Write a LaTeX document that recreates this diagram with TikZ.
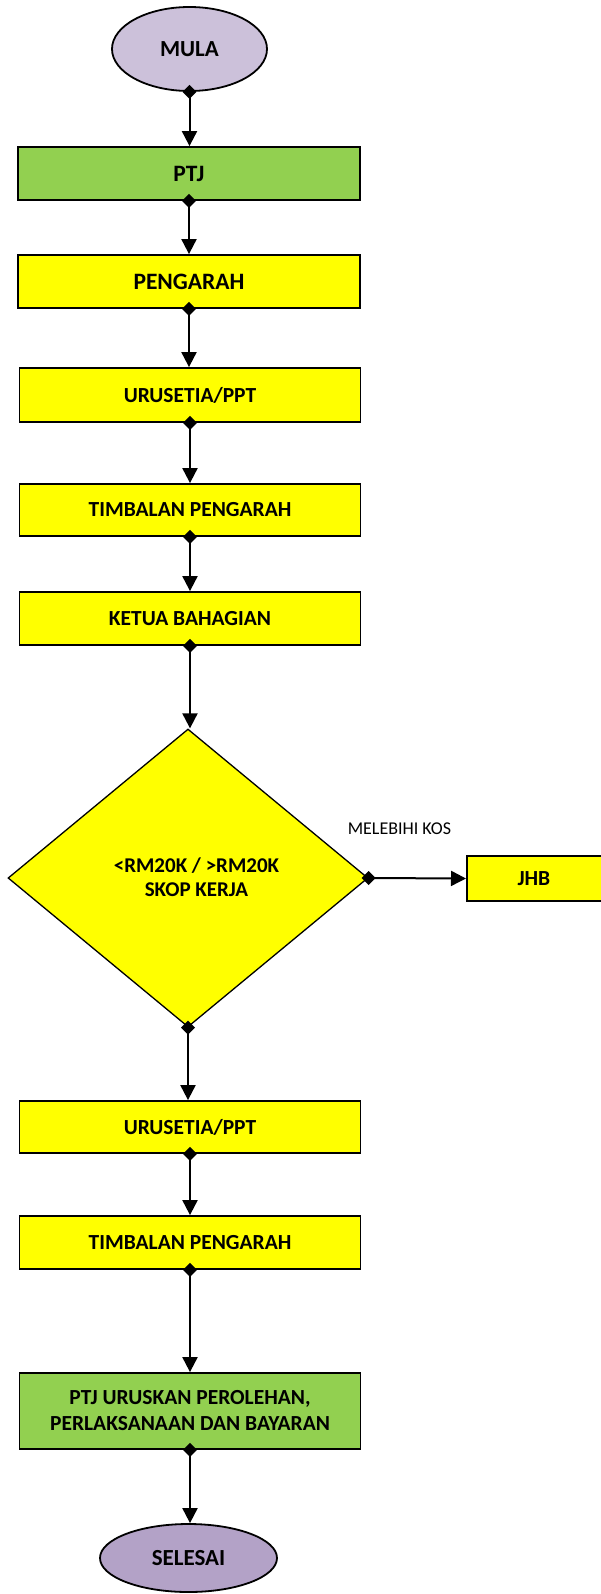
\documentclass[tikz,border=0pt]{standalone}
\usepackage{fontspec}
\setmainfont{Carlito}
\usetikzlibrary{shapes.geometric,arrows.meta}
\definecolor{lavA}{RGB}{204,193,218}
\definecolor{lavB}{RGB}{179,162,199}
\definecolor{grn}{RGB}{146,208,80}
\definecolor{yel}{RGB}{255,255,0}
\tikzset{
  box/.style={draw=black, line width=1.8pt, rectangle, inner sep=0pt, font=\fontsize{21.5}{26}\selectfont\bfseries, align=center},
  bigtxt/.style={font=\fontsize{23.5}{28}\selectfont\bfseries},
  gbox/.style={box, fill=grn},
  ybox/.style={box, fill=yel},
  term/.style={draw=black, line width=1.8pt, ellipse, inner sep=0pt, font=\fontsize{23}{27}\selectfont\bfseries},
  conn/.style={line width=2pt, {Diamond[length=14pt,width=14pt]}-{Triangle[length=15pt,width=15pt]}, shorten <=-7pt},
}
\begin{document}
\begin{tikzpicture}[x=1pt,y=-1pt]
\useasboundingbox (0,0) rectangle (600,1594);
\node[term, fill=lavA, minimum width=155pt, minimum height=84pt] (mula) at (189.5,49) {MULA};
\node[gbox, bigtxt, minimum width=342pt, minimum height=53pt] (ptj) at (189,173.5) {PTJ};
\node[ybox, bigtxt, minimum width=342pt, minimum height=53pt] (peng) at (189,281.5) {PENGARAH};
\node[ybox, minimum width=341pt, minimum height=54pt] (uru1) at (190,395) {URUSETIA/PPT};
\node[ybox, minimum width=341pt, minimum height=52pt] (timb1) at (190,510) {TIMBALAN PENGARAH};
\node[ybox, minimum width=341pt, minimum height=53pt] (ketua) at (190,618.5) {KETUA BAHAGIAN};
\node[draw=black, line width=1.3pt, fill=yel, diamond, aspect=1.2, inner sep=0pt,
      minimum width=360pt, minimum height=298pt] (dec) at (188,878) {};
\node[align=center, inner sep=0pt, font=\fontsize{21}{24.5}\selectfont\bfseries] (dectxt) at (196.5,877) {\textless RM20K / \textgreater RM20K\\SKOP KERJA};
\node[ybox, minimum width=137pt, minimum height=45pt, anchor=west] (jhb) at (466,878.5) {\hspace*{-3pt}JHB};
\node[font=\fontsize{18}{22}\selectfont] (lbl) at (399.5,829) {MELEBIHI KOS};
\node[ybox, minimum width=341pt, minimum height=52pt] (uru2) at (190,1127) {URUSETIA/PPT};
\node[ybox, minimum width=341pt, minimum height=53pt] (timb2) at (190,1242.5) {TIMBALAN PENGARAH};
\node[gbox, minimum width=341pt, minimum height=76pt] (ptju) at (190,1411) {PTJ URUSKAN PEROLEHAN,\\PERLAKSANAAN DAN BAYARAN};
\node[term, fill=lavB, minimum width=177pt, minimum height=68pt] (sel) at (188.5,1558) {SELESAI};
\draw[conn] (mula.south) -- (mula.south |- ptj.north);
\draw[conn] (ptj.south) -- (ptj.south |- peng.north);
\draw[conn] (peng.south) -- (peng.south |- uru1.north);
\draw[conn] (uru1.south) -- (uru1.south |- timb1.north);
\draw[conn] (timb1.south) -- (timb1.south |- ketua.north);
\draw[conn] (ketua.south) -- (ketua.south |- dec.north);
\draw[conn] (dec.east) -- (jhb.west);
\draw[conn] (dec.south) -- (dec.south |- uru2.north);
\draw[conn] (uru2.south) -- (uru2.south |- timb2.north);
\draw[conn] (timb2.south) -- (timb2.south |- ptju.north);
\draw[conn] (ptju.south) -- (ptju.south |- sel.north);
\end{tikzpicture}
\end{document}
